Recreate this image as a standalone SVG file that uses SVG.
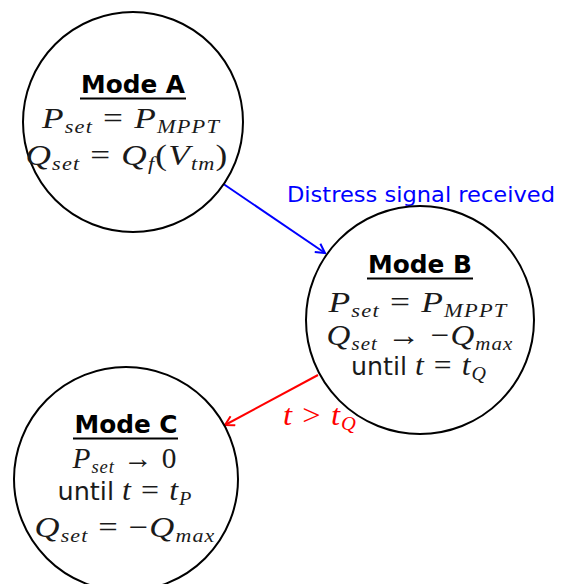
<svg xmlns="http://www.w3.org/2000/svg" width="565" height="584" viewBox="0 0 565 584">
<defs>
<style>
.node{fill:#fff;stroke:#000;stroke-width:2}
.title{font-family:"DejaVu Sans",sans-serif;font-weight:bold;font-size:24px;text-anchor:middle;fill:#000}
.m{font-family:"Liberation Serif",serif;font-style:italic;font-size:30px;letter-spacing:1px;text-anchor:middle;fill:#1a1a1a}
.s{font-size:19px}
.r{font-style:normal}
.sans{font-family:"DejaVu Sans",sans-serif;font-style:normal;font-size:24px;letter-spacing:0}
.ul{stroke:#000;stroke-width:2}
.edge{fill:none;stroke-width:2}
</style>
<marker id="ab" viewBox="0 0 12 12" refX="11" refY="6" markerWidth="12" markerHeight="12" markerUnits="userSpaceOnUse" orient="auto">
<path d="M2,1 L11,6 L2,11" fill="none" stroke="#0000ff" stroke-width="2"/>
</marker>
<marker id="ar" viewBox="0 0 12 12" refX="11" refY="6" markerWidth="12" markerHeight="12" markerUnits="userSpaceOnUse" orient="auto">
<path d="M2,1 L11,6 L2,11" fill="none" stroke="#ff0000" stroke-width="2"/>
</marker>
</defs>
<rect width="565" height="584" fill="#fff"/>
<g id="connectors">
<line class="edge" x1="222" y1="183" x2="325" y2="253" stroke="#0000ff" marker-end="url(#ab)"/>
<text x="421" y="202" font-family="DejaVu Sans, sans-serif" font-size="22" fill="#0000ff" text-anchor="middle" textLength="268" lengthAdjust="spacingAndGlyphs">Distress signal received</text>
<line class="edge" x1="318" y1="375" x2="225" y2="425" stroke="#ff0000" marker-end="url(#ar)"/>
<text class="m" x="320" y="425" style="fill:#ff0000" textLength="74" lengthAdjust="spacingAndGlyphs">t <tspan class="r">&gt;</tspan> t<tspan class="s" dy="5">Q</tspan></text>
</g>
<g id="modeA">
<circle class="node" cx="133" cy="122" r="110"/>
<text class="title" x="133" y="93" textLength="104" lengthAdjust="spacingAndGlyphs">Mode A</text>
<line class="ul" x1="80" y1="98.5" x2="186" y2="98.5"/>
<text class="m" x="131" y="128" textLength="178" lengthAdjust="spacingAndGlyphs">P<tspan class="s" dy="5">set</tspan><tspan class="r" dy="-5"> = </tspan>P<tspan class="s" dy="5">MPPT</tspan></text>
<text class="m" x="127" y="165" textLength="203" lengthAdjust="spacingAndGlyphs">Q<tspan class="s" dy="5">set</tspan><tspan class="r" dy="-5"> = </tspan>Q<tspan class="s" dy="5">f</tspan><tspan class="r" dy="-5">(</tspan>V<tspan class="s" dy="5">tm</tspan><tspan class="r" dy="-5">)</tspan></text>
</g>
<g id="modeB">
<circle class="node" cx="420" cy="320" r="114"/>
<text class="title" x="420" y="273" textLength="104" lengthAdjust="spacingAndGlyphs">Mode B</text>
<line class="ul" x1="367" y1="278.5" x2="473" y2="278.5"/>
<text class="m" x="418" y="312" textLength="179" lengthAdjust="spacingAndGlyphs">P<tspan class="s" dy="5">set</tspan><tspan class="r" dy="-5"> = </tspan>P<tspan class="s" dy="5">MPPT</tspan></text>
<text class="m" x="420" y="345" textLength="187" lengthAdjust="spacingAndGlyphs">Q<tspan class="s" dy="5">set</tspan><tspan class="r" dy="-5"> → −</tspan>Q<tspan class="s" dy="5">max</tspan></text>
<text class="m" x="419" y="375" textLength="136" lengthAdjust="spacingAndGlyphs"><tspan class="sans">until </tspan>t<tspan class="r"> = </tspan>t<tspan class="s" dy="5">Q</tspan></text>
</g>
<g id="modeC">
<circle class="node" cx="126" cy="479" r="112"/>
<text class="title" x="126" y="433" textLength="103" lengthAdjust="spacingAndGlyphs">Mode C</text>
<line class="ul" x1="73" y1="438.5" x2="178" y2="438.5"/>
<text class="m" x="125" y="468" textLength="105" lengthAdjust="spacingAndGlyphs">P<tspan class="s" dy="5">set</tspan><tspan class="r" dy="-5"> → 0</tspan></text>
<text class="m" x="125" y="500" textLength="135" lengthAdjust="spacingAndGlyphs"><tspan class="sans">until </tspan>t<tspan class="r"> = </tspan>t<tspan class="s" dy="5">P</tspan></text>
<text class="m" x="125" y="537" textLength="181" lengthAdjust="spacingAndGlyphs">Q<tspan class="s" dy="5">set</tspan><tspan class="r" dy="-5"> = −</tspan>Q<tspan class="s" dy="5">max</tspan></text>
</g>
</svg>
